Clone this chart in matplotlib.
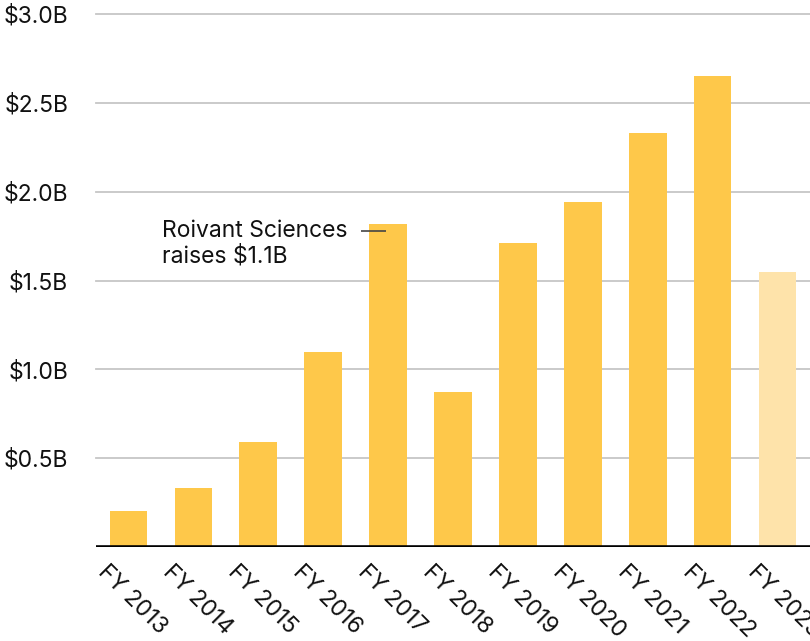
import numpy as np
import matplotlib.pyplot as plt
import matplotlib.transforms as mtransforms

plt.rcParams['font.family'] = ['Inter', 'DejaVu Sans']

# funding by fiscal year, in billions of dollars
years = ['FY 2013', 'FY 2014', 'FY 2015', 'FY 2016', 'FY 2017', 'FY 2018',
         'FY 2019', 'FY 2020', 'FY 2021', 'FY 2022', 'FY 2023']
funding = [0.20, 0.33, 0.59, 1.10, 1.82, 0.87, 1.71, 1.94, 2.33, 2.65, 1.55]
partial_year = 'FY 2023'

y_ticks = [0.5, 1.0, 1.5, 2.0, 2.5, 3.0]
y_labels = ['$0.5B', '$1.0B', '$1.5B', '$2.0B', '$2.5B', '$3.0B']

note_text = 'Roivant Sciences\nraises $1.1B'
note_year = 'FY 2017'

full_color = '#FEC84A'
light_color = '#FEE3AA'
text_color = '#111111'
fs = 16.5

fig = plt.figure(figsize=(8.10, 6.41), dpi=100)
ax = fig.add_axes([96 / 810, 1 - 547 / 641, 1 - 96 / 810, (547 - 14) / 641])

x = np.arange(len(years))
colors = [light_color if y == partial_year else full_color for y in years]
ax.bar(x, funding, width=0.58, color=colors, zorder=2)

ax.set_xlim(-0.5, len(years) - 0.5)
ax.set_ylim(0, 3.0)

# horizontal grid
for t in y_ticks:
    ax.axhline(t, color='#c6c6c6', lw=1.3, zorder=1, clip_on=False)
ax.axhline(0, color='black', lw=2.6, zorder=3)

for s in ['top', 'right', 'left', 'bottom']:
    ax.spines[s].set_visible(False)

ax.set_yticks(y_ticks)
ax.set_yticklabels(y_labels, fontsize=fs, color=text_color)
ax.tick_params(axis='y', length=0, pad=20)

ax.set_xticks(x)
ax.set_xticklabels(years, fontsize=fs, color=text_color, rotation=-45,
                   ha='left', va='top', rotation_mode='anchor')
ax.tick_params(axis='x', length=0, pad=10)
shift = mtransforms.ScaledTranslation(-19 / 100, 0, fig.dpi_scale_trans)
for lbl in ax.get_xticklabels():
    lbl.set_transform(lbl.get_transform() + shift)

# annotation next to the 2017 bar
i = years.index(note_year)
ax.text(162 / 810, 1 - 220 / 641, note_text, fontsize=fs, color=text_color,
        ha='left', va='top', linespacing=1.2, multialignment='left',
        transform=fig.transFigure)
line_y = funding[i] - 0.04
ax.plot([i - 0.42, i - 0.03], [line_y, line_y], color='#444444', lw=1.2,
        zorder=4, solid_capstyle='butt')

fig.savefig('out.png', dpi=100)
